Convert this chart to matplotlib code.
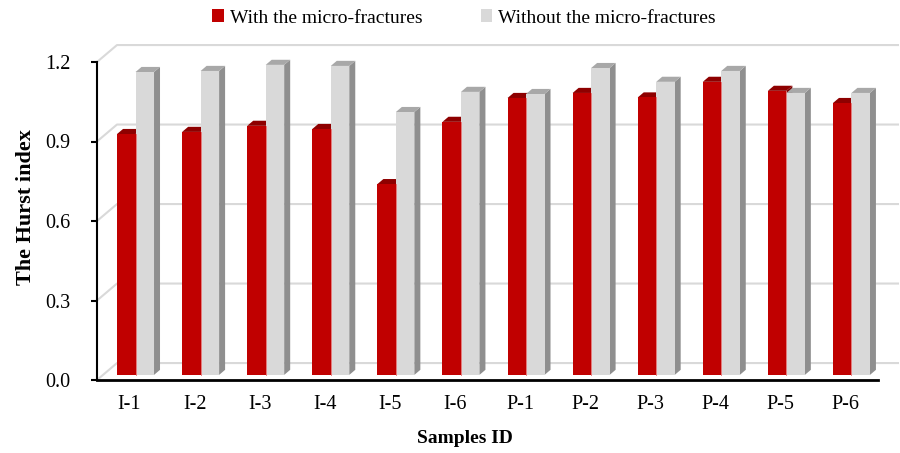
import matplotlib
matplotlib.use("Agg")
import matplotlib.pyplot as plt
from matplotlib.patches import Polygon, Patch

# Hurst index per sample, with and without the micro-fractures
samples = ["I-1", "I-2", "I-3", "I-4", "I-5", "I-6",
           "P-1", "P-2", "P-3", "P-4", "P-5", "P-6"]
with_mf = [0.909, 0.917, 0.940, 0.928, 0.720, 0.955,
           1.045, 1.064, 1.047, 1.106, 1.072, 1.026]
without_mf = [1.143, 1.147, 1.170, 1.166, 0.992, 1.068,
              1.060, 1.158, 1.106, 1.147, 1.064, 1.064]
yticks = [0.0, 0.3, 0.6, 0.9, 1.2]

plt.rcParams["font.family"] = ["Liberation Serif", "DejaVu Serif"]

# fake 3D look: depth of the plot box and of each column, in data units
DX, DY = 0.307, 0.064
A, D = 0.30, 0.30
W = 0.284

RED = ("#C00000", "#8E0000", "#7A0000")
GRAY = ("#D9D9D9", "#A8A8A8", "#8F8F8F")


def draw_column(ax, x0, h, colors):
    front, top, side = colors
    ox, oy = A * DX, A * DY
    dx, dy = D * DX, D * DY
    x1 = x0 + ox
    x2 = x1 + W
    faces = [
        ([(x2, oy), (x2, oy + h), (x2 + dx, oy + h + dy), (x2 + dx, oy + dy)], side),
        ([(x1, oy + h), (x2, oy + h), (x2 + dx, oy + h + dy), (x1 + dx, oy + h + dy)], top),
        ([(x1, oy), (x2, oy), (x2, oy + h), (x1, oy + h)], front),
    ]
    for pts, c in faces:
        ax.add_patch(Polygon(pts, closed=True, facecolor=c, edgecolor="none",
                             clip_on=False, zorder=3))


fig = plt.figure(figsize=(9, 4.53), dpi=100)
ax = fig.add_axes([97 / 900, (453 - 380) / 453, 781 / 900, 318 / 453])
n = len(samples)
ax.set_xlim(-0.5, n - 0.5)
ax.set_ylim(0, 1.2)

# back wall gridlines and floor
x_left, x_right = -0.5, n - 0.5
for v in yticks:
    ax.plot([x_left, x_left + DX, x_right + DX], [v, v + DY, v + DY],
            color="#D9D9D9", lw=1.5, clip_on=False, zorder=1)

for i in range(n):
    draw_column(ax, i - W, with_mf[i], RED)
    draw_column(ax, i, without_mf[i], GRAY)
    # thin light edge between red and gray faces
    ax.plot([i + A * DX, i + A * DX], [A * DY, A * DY + with_mf[i]],
            color="#E46C6C", lw=0.6, clip_on=False, zorder=4)

for s in ["top", "right"]:
    ax.spines[s].set_visible(False)
ax.spines["left"].set_linewidth(1.5)
ax.spines["left"].set_bounds(0, 1.2)
ax.spines["bottom"].set_linewidth(2)
ax.spines["bottom"].set_zorder(5)

ax.set_yticks(yticks)
ax.set_yticklabels([f"{v:.1f}" for v in yticks])
ax.tick_params(axis="y", length=4, width=1.5, pad=15, labelsize=14.5, colors="black")
ax.set_xticks(range(n))
ax.set_xticklabels(samples)
ax.tick_params(axis="x", length=0, pad=11, labelsize=14.5)

ax.set_xlabel("Samples ID", fontsize=14, fontweight="bold")
ax.set_ylabel("The Hurst index", fontsize=16, fontweight="bold")
ax.xaxis.set_label_coords(0.471, -0.157)
ax.yaxis.set_label_coords(-0.078, 0.545)

handles = [Patch(facecolor=RED[0], label="With the micro-fractures"),
           Patch(facecolor=GRAY[0], label="Without the micro-fractures")]
fig.legend(handles=handles, loc="center", bbox_to_anchor=(464 / 900, 1 - 18 / 453),
           ncol=2, frameon=False, fontsize=14, handlelength=0.6, handleheight=0.6,
           handletextpad=0.3, columnspacing=3.0)

fig.savefig("out.png", dpi=100)
